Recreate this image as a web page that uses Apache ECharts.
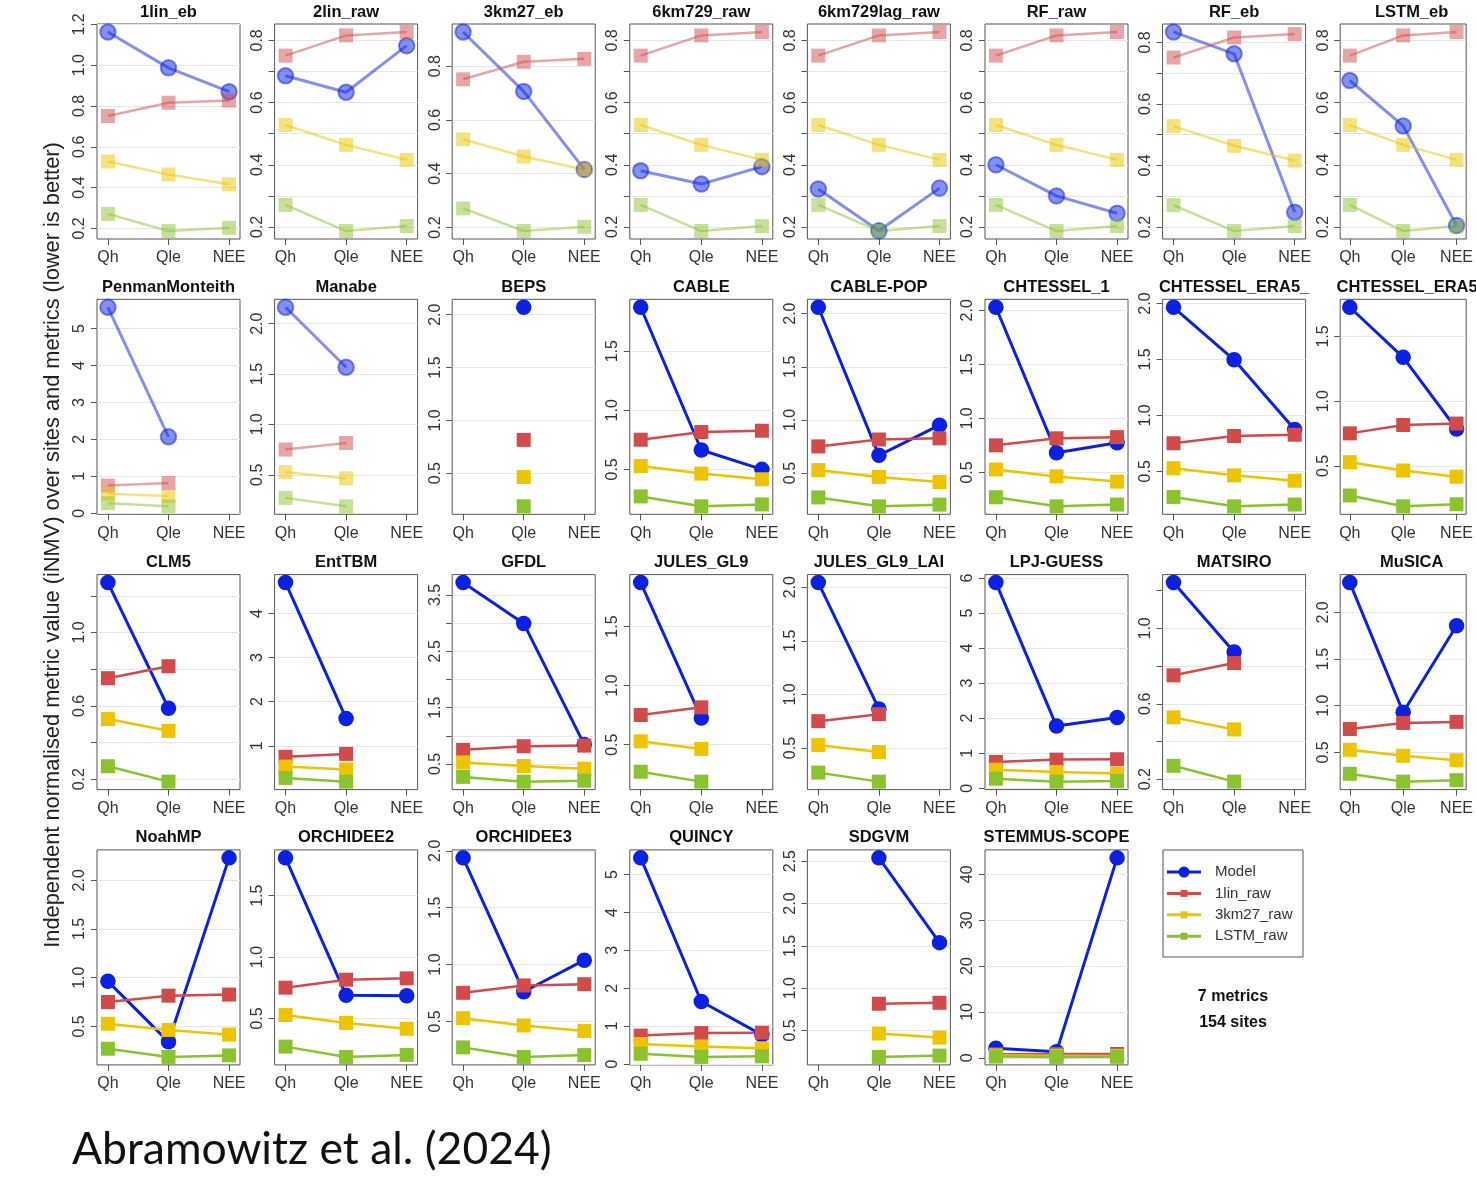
<!DOCTYPE html>
<html><head><meta charset="utf-8">
<script src="https://cdn.jsdelivr.net/npm/echarts@6/dist/echarts.min.js"></script>
<style>html,body{margin:0;padding:0;background:#fff}#c{width:1476px;height:1178px}</style>
</head><body><div id="c"></div>
<script>
// ---------------- data ----------------
const metrics = ['Qh', 'Qle', 'NEE'];

const panelNames = [
  '1lin_eb', '2lin_raw', '3km27_eb', '6km729_raw', '6km729lag_raw', 'RF_raw', 'RF_eb', 'LSTM_eb',
  'PenmanMonteith', 'Manabe', 'BEPS', 'CABLE', 'CABLE-POP', 'CHTESSEL_1', 'CHTESSEL_ERA5_', 'CHTESSEL_ERA5_',
  'CLM5', 'EntTBM', 'GFDL', 'JULES_GL9', 'JULES_GL9_LAI', 'LPJ-GUESS', 'MATSIRO', 'MuSICA',
  'NoahMP', 'ORCHIDEE2', 'ORCHIDEE3', 'QUINCY', 'SDGVM', 'STEMMUS-SCOPE'
];

// Model iNMV per metric (Qh, Qle, NEE); null = not submitted
const modelValues = [
  [1.163, 0.987, 0.870],
  [0.686, 0.633, 0.783],
  [0.927, 0.706, 0.416],
  [0.381, 0.338, 0.394],
  [0.322, 0.188, 0.325],
  [0.400, 0.300, 0.244],
  [0.834, 0.763, 0.248],
  [0.671, 0.525, 0.205],
  [5.58, 2.07, null],
  [2.163, 1.567, null],
  [null, 2.07, null],
  [1.872, 0.664, 0.500],
  [2.06, 0.667, 0.951],
  [2.028, 0.682, 0.775],
  [1.967, 1.497, 0.875],
  [1.726, 1.339, 0.785],
  [1.272, 0.587, null],
  [4.70, 1.62, null],
  [3.72, 2.995, 0.844],
  [1.872, 0.726, null],
  [2.043, 0.865, null],
  [5.874, 1.774, 2.02],
  [1.243, 0.875, null],
  [2.319, 0.93, 1.856],
  [0.963, 0.342, 2.23],
  [1.808, 0.689, 0.685],
  [1.938, 0.76, 1.038],
  [5.44, 1.65, 0.77],
  [null, 2.54, 1.538],
  [2.1, 1.3, 43.6]
];

// Benchmark (reference) models, same in every panel
const lin1Raw  = [0.751, 0.816, 0.827];
const km27Raw  = [0.528, 0.464, 0.416];
const lstmRaw  = [0.271, 0.187, 0.203];

// panels drawn faded (empirical / benchmark-type models)
const fadedPanels = [0, 1, 2, 3, 4, 5, 6, 7, 8, 9];

// y tick spacing and labelled ticks per panel
const yTickStep = [
  0.2, 0.1, 0.2, 0.1, 0.1, 0.1, 0.1, 0.1,
  1, 0.5, 0.5, 0.5, 0.5, 0.5, 0.5, 0.5,
  0.2, 1, 0.5, 0.5, 0.5, 1, 0.2, 0.5,
  0.5, 0.5, 0.5, 1, 0.5, 10
];
const yTickLabels = [
  ['0.2','0.4','0.6','0.8','1.0','1.2'],
  ['0.2','0.4','0.6','0.8'],
  ['0.2','0.4','0.6','0.8'],
  ['0.2','0.4','0.6','0.8'],
  ['0.2','0.4','0.6','0.8'],
  ['0.2','0.4','0.6','0.8'],
  ['0.2','0.4','0.6','0.8'],
  ['0.2','0.4','0.6','0.8'],
  ['0','1','2','3','4','5'],
  ['0.5','1.0','1.5','2.0'],
  ['0.5','1.0','1.5','2.0'],
  ['0.5','1.0','1.5'],
  ['0.5','1.0','1.5','2.0'],
  ['0.5','1.0','1.5','2.0'],
  ['0.5','1.0','1.5','2.0'],
  ['0.5','1.0','1.5'],
  ['0.2','0.6','1.0'],
  ['1','2','3','4'],
  ['0.5','1.5','2.5','3.5'],
  ['0.5','1.0','1.5'],
  ['0.5','1.0','1.5','2.0'],
  ['0','1','2','3','4','5','6'],
  ['0.2','0.6','1.0'],
  ['0.5','1.0','1.5','2.0'],
  ['0.5','1.0','1.5','2.0'],
  ['0.5','1.0','1.5'],
  ['0.5','1.0','1.5','2.0'],
  ['0','1','2','3','4','5'],
  ['0.5','1.0','1.5','2.0','2.5'],
  ['0','10','20','30','40']
];

const legendNames = ['Model', '1lin_raw', '3km27_raw', 'LSTM_raw'];
const noteLines = ['7 metrics', '154 sites'];
const yAxisTitle = 'Independent normalised metric value (iNMV) over sites and metrics (lower is better)';
const caption = 'Abramowitz et al. (2024)';

// ---------------- styling / layout ----------------
const FONT = '"Liberation Sans", Arial, Helvetica, sans-serif';
const colors = ['#0A22E0', '#D24B4B', '#EEC300', '#89C42F'];
const GX0 = 97, GPX = 177.6, GY0 = 24, GPY = 275.3, GW = 143, GH = 215;

const grids = [], xAxes = [], yAxes = [], series = [], graphics = [];

panelNames.forEach((name, i) => {
  const col = i % 8, row = Math.floor(i / 8);
  const left = GX0 + col * GPX, top = GY0 + row * GPY;
  const mv = modelValues[i];
  const mask = mv.map(v => v != null);
  const all = [];
  [mv, lin1Raw, km27Raw, lstmRaw].forEach(a => a.forEach((v, k) => { if (mask[k] && v != null) all.push(v); }));
  const dmin = Math.min(...all), dmax = Math.max(...all);
  const pad = 0.04 * (dmax - dmin);
  const lo = dmin - pad, hi = dmax + pad;
  const step = yTickStep[i];
  const ticks = [];
  for (let k = Math.ceil(lo / step - 1e-9); k * step <= hi + 1e-9; k++) ticks.push(+(k * step).toFixed(6));
  const labs = yTickLabels[i];
  const labVals = labs.map(parseFloat);
  const faded = fadedPanels.includes(i);

  grids.push({ left, top, width: GW, height: GH, show: true, borderColor: '#555', borderWidth: 1, backgroundColor: 'transparent', containLabel: false });

  xAxes.push({
    type: 'value', gridIndex: i, min: -0.18, max: 2.18,
    axisLine: { show: false, onZero: false },
    axisTick: { show: true, customValues: [0, 1, 2], length: 6, lineStyle: { color: '#555' } },
    axisLabel: { show: true, customValues: [0, 1, 2], formatter: v => metrics[Math.round(v)], margin: 11,
      fontSize: 16, color: '#333', fontFamily: FONT },
    splitLine: { show: false }
  });

  yAxes.push({
    type: 'value', gridIndex: i, min: lo, max: hi,
    axisLine: { show: false, onZero: false },
    axisTick: { show: true, customValues: ticks, length: 6, lineStyle: { color: '#555' } },
    axisLabel: { show: true, customValues: labVals, rotate: 90, margin: 9,
      formatter: v => { const j = labVals.findIndex(x => Math.abs(x - v) < 1e-6); return j >= 0 ? labs[j] : ''; },
      fontSize: 16, color: '#333', fontFamily: FONT },
    splitLine: { show: true, lineStyle: { color: '#E6E6E6', width: 1 } }
  });

  const sets = [mv, lin1Raw, km27Raw, lstmRaw];
  sets.forEach((vals, s) => {
    const isModel = s === 0;
    const c = colors[s];
    series.push({
      type: 'line', name: legendNames[s], xAxisIndex: i, yAxisIndex: i,
      data: vals.map((v, k) => [k, (mask[k] && v != null) ? v : '-']),
      symbol: isModel ? 'circle' : 'rect',
      symbolSize: isModel ? 15.5 : 14,
      showSymbol: true, showAllSymbol: true, connectNulls: false,
      lineStyle: { color: c, width: isModel ? 3 : 2.5, opacity: faded ? 0.5 : 1 },
      itemStyle: { color: c, opacity: faded ? 0.5 : 1, borderColor: c, borderWidth: (isModel && faded) ? 2 : 0 },
      emphasis: { disabled: true }, silent: true, animation: false, clip: false
    });
  });

  graphics.push({
    type: 'text', silent: true,
    style: { x: left + GW / 2, y: top - 12, text: name, fill: '#111',
      font: 'bold 16.5px ' + FONT, textAlign: 'center', textVerticalAlign: 'middle', align: 'center', verticalAlign: 'middle' }
  });
});

// y-axis title
graphics.push({
  type: 'text', silent: true, x: 53, y: 545, rotation: Math.PI / 2,
  style: { x: 0, y: 0, text: yAxisTitle, fill: '#222', font: '21.8px ' + FONT,
    textAlign: 'center', textVerticalAlign: 'middle', align: 'center', verticalAlign: 'middle' }
});

// legend box
const LX = 1163, LY = 850;
graphics.push({ type: 'rect', silent: true, shape: { x: LX, y: LY, width: 140, height: 107 },
  style: { fill: '#fff', stroke: '#555', lineWidth: 1 } });
legendNames.forEach((nm, s) => {
  const yy = 872 + s * 21.4;
  graphics.push({ type: 'line', silent: true, shape: { x1: 1167, y1: yy, x2: 1201, y2: yy },
    style: { stroke: colors[s], lineWidth: 3 } });
  if (s === 0) {
    graphics.push({ type: 'circle', silent: true, shape: { cx: 1184, cy: yy, r: 5.5 }, style: { fill: colors[s] } });
  } else {
    graphics.push({ type: 'rect', silent: true, shape: { x: 1180.5, y: yy - 3.5, width: 7, height: 7 }, style: { fill: colors[s] } });
  }
  graphics.push({ type: 'text', silent: true,
    style: { x: 1215, y: yy, text: nm, fill: '#333', font: '15px ' + FONT,
      textAlign: 'left', textVerticalAlign: 'middle', align: 'left', verticalAlign: 'middle' } });
});
noteLines.forEach((t, k) => {
  graphics.push({ type: 'text', silent: true,
    style: { x: 1233, y: 997 + k * 26, text: t, fill: '#111', font: 'bold 16px ' + FONT,
      textAlign: 'center', textVerticalAlign: 'middle', align: 'center', verticalAlign: 'middle' } });
});

// caption
graphics.push({ type: 'text', silent: true,
  style: { x: 72, y: 1150, text: caption, fill: '#111', font: '44.5px Lato, "Open Sans", sans-serif',
    textAlign: 'left', textVerticalAlign: 'middle', align: 'left', verticalAlign: 'middle' } });

const chart = echarts.init(document.getElementById('c'), null, { renderer: 'canvas' });
chart.setOption({
  animation: false,
  backgroundColor: '#fff',
  textStyle: { fontFamily: FONT },
  grid: grids, xAxis: xAxes, yAxis: yAxes, series,
  graphic: { elements: graphics }
});
</script></body></html>
